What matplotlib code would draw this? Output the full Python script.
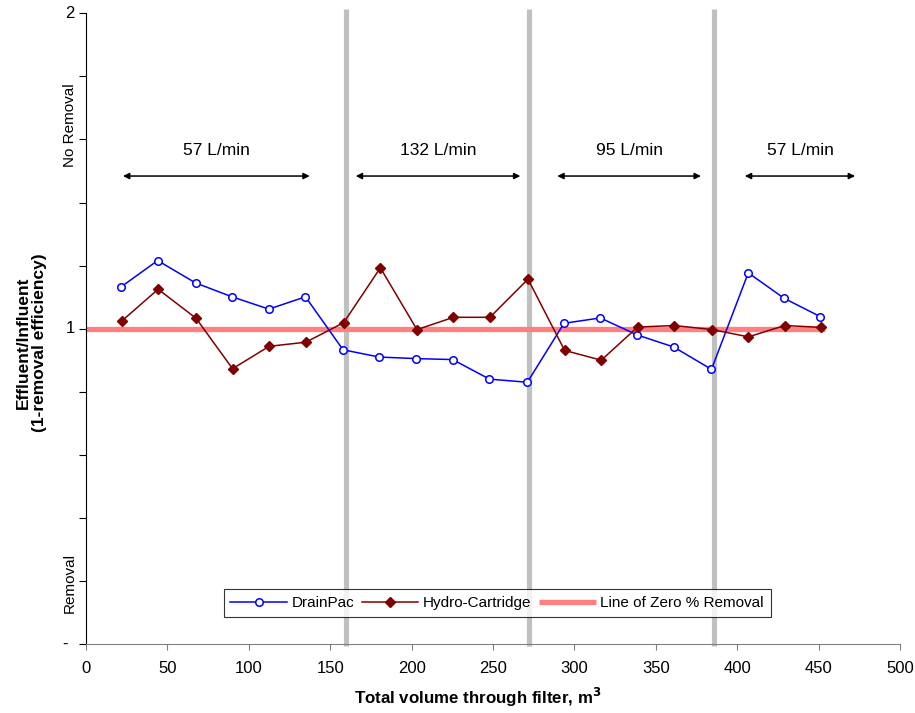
import numpy as np
import matplotlib
matplotlib.use('Agg')
import matplotlib.pyplot as plt
from matplotlib.transforms import blended_transform_factory

plt.rcParams['font.family'] = ['Liberation Sans', 'DejaVu Sans']

# DrainPac (open circles)
drain_x = [21.4, 44.0, 67.3, 89.7, 112.3, 134.8, 157.9, 180.1, 202.9, 225.2,
           247.8, 271.1, 293.6, 315.9, 338.6, 360.9, 384.2, 406.8, 428.9, 451.1]
drain_y = [1.132, 1.216, 1.145, 1.101, 1.062, 1.101, 0.933, 0.910, 0.905, 0.902,
           0.840, 0.830, 1.017, 1.034, 0.980, 0.942, 0.871, 1.177, 1.096, 1.038]

# Hydro-Cartridge (filled diamonds)
hydro_x = [21.9, 44.3, 67.6, 90.0, 112.5, 135.0, 158.3, 180.8, 203.3, 225.7,
           248.1, 271.5, 294.0, 316.5, 338.8, 361.3, 384.7, 406.9, 429.2, 451.7]
hydro_y = [1.024, 1.125, 1.033, 0.873, 0.944, 0.957, 1.019, 1.193, 0.997, 1.036,
           1.036, 1.157, 0.931, 0.900, 1.005, 1.010, 0.997, 0.974, 1.010, 1.004]

# line of zero % removal
zero_x = [0, 454]
zero_y = [1, 1]

# flow-rate changes
change_x = [159.6, 271.9, 385.5]

# flow-rate periods
flow_labels = ['57 L/min', '132 L/min', '95 L/min', '57 L/min']
flow_start = [22.7, 165.7, 289.5, 404.7]
flow_end = [137.4, 266.8, 377.7, 472.4]
arrow_y = 1.484
label_y = 1.564

fig = plt.figure(figsize=(9.15, 7.13), dpi=100)
ax = fig.add_axes([0.094, 0.0968, 0.8896, 0.8845])

for cx in change_x:
    ax.plot([cx, cx], [-0.007, 2.013], color='#c0c0c0', lw=3.7, zorder=1,
            clip_on=False, solid_capstyle='butt')

ax.plot(zero_x, zero_y, color='#ff8080', lw=3.8, zorder=2,
        label='Line of Zero % Removal', solid_capstyle='butt')
ax.plot(drain_x, drain_y, color='#0000ff', lw=1.1, marker='o', ms=5.4,
        mfc='white', mec='#0000ff', mew=1.1, zorder=3, label='DrainPac')
ax.plot(hydro_x, hydro_y, color='#800000', lw=1.1, marker='D', ms=5,
        mfc='#800000', mec='#800000', zorder=4, label='Hydro-Cartridge')

for lab, x0, x1 in zip(flow_labels, flow_start, flow_end):
    ax.annotate('', xy=(x1, arrow_y), xytext=(x0, arrow_y),
                arrowprops=dict(arrowstyle='<|-|>', color='black', lw=1.1,
                                mutation_scale=9, shrinkA=0, shrinkB=0))
    ax.text((x0 + x1) / 2, label_y, lab, ha='center', va='center', fontsize=12.5)

ax.set_xlim(0, 500)
ax.set_ylim(0, 2)
ax.set_xticks(np.arange(0, 501, 50))
ax.set_yticks(np.arange(0, 2.01, 0.2))
ax.set_yticklabels([])
ax.tick_params(axis='x', direction='out', length=4, labelsize=12, pad=8,
               color='#808080')
ax.tick_params(axis='y', direction='out', length=5)
ax.spines['bottom'].set_color('#808080')
for s in ['top', 'right']:
    ax.spines[s].set_visible(False)

tr = blended_transform_factory(fig.transFigure, ax.transData)
ax.text(75 / 915, 2, '2', transform=tr, ha='right', va='center', fontsize=12)
ax.text(75 / 915, 1, '1', transform=tr, ha='right', va='center', fontsize=12)
ax.text(68 / 915, 0, '-', transform=tr, ha='right', va='center', fontsize=12)
ax.text(70 / 915, 1.646, 'No Removal', transform=tr, ha='center', va='center',
        rotation=90, fontsize=11)
ax.text(70 / 915, 0.194, 'Removal', transform=tr, ha='center', va='center',
        rotation=90, fontsize=11)

fig.text(31 / 915, 1 - 343 / 713, 'Effluent/Influent\n(1-removal efficiency)',
         rotation=90, ha='center', va='center', fontsize=12.5, fontweight='bold',
         linespacing=1.1)
ax.set_xlabel('Total volume through filter, m$^\\mathbf{3}$', fontsize=12.2,
              fontweight='bold')
ax.xaxis.set_label_coords(0.4816, -0.066)

handles, labels = ax.get_legend_handles_labels()
order = [1, 2, 0]
leg = ax.legend([handles[i] for i in order], [labels[i] for i in order],
                loc='center', bbox_to_anchor=(0.505, 0.065), ncol=3,
                fancybox=False, edgecolor='black', fontsize=11,
                handlelength=3.7, columnspacing=0.5, handletextpad=0.3,
                borderpad=0.45, borderaxespad=0)
leg.get_frame().set_linewidth(0.8)

fig.savefig('out.png', dpi=100)
